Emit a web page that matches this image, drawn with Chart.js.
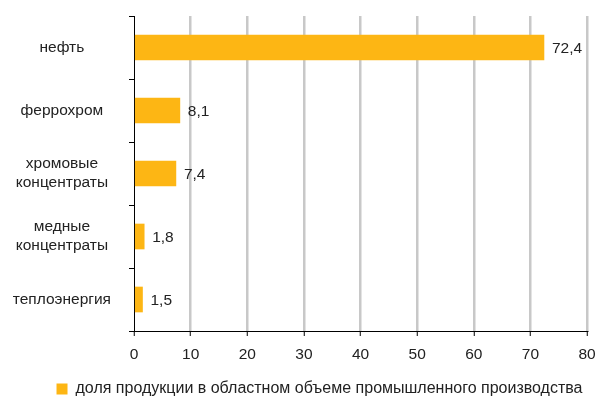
<!DOCTYPE html>
<html>
<head>
<meta charset="utf-8">
<script src="https://cdn.jsdelivr.net/npm/chart.js@4/dist/chart.umd.min.js"></script>
<style>
  html, body { margin: 0; padding: 0; background: #fff; overflow: hidden; }
  /* холст чуть выше окна: нижний отступ легенды (10px) уходит за край */
  #wrap { width: 597px; height: 397px; overflow: hidden; }
</style>
</head>
<body>
<div id="wrap"><canvas id="chart" width="597" height="407"></canvas></div>
<script>
// Данные диаграммы
const categories = ["нефть", "феррохром", ["хромовые", "концентраты"], ["медные", "концентраты"], "теплоэнергия"];
const values = [72.4, 8.1, 7.4, 1.8, 1.5];
const seriesName = "доля продукции в областном объеме промышленного производства";
const xTicks = [0, 10, 20, 30, 40, 50, 60, 70, 80];

const barColor = "#FDB614";
const fontFamily = "'Liberation Sans', Arial, sans-serif";

// Подписи значений справа от столбцов
const valueLabels = {
  id: "valueLabels",
  afterDatasetsDraw(chart) {
    const ctx = chart.ctx;
    const meta = chart.getDatasetMeta(0);
    ctx.save();
    ctx.font = "15.5px " + fontFamily;
    ctx.fillStyle = "#222";
    ctx.textAlign = "left";
    ctx.textBaseline = "middle";
    meta.data.forEach((bar, i) => {
      const txt = values[i].toFixed(1).replace(".", ",");
      ctx.fillText(txt, bar.x + 8, bar.y + 1);
    });
    ctx.restore();
  }
};

// Сдвиг легенды немного вправо, как в оригинале
const legendShift = {
  id: "legendShift",
  afterLayout(chart) {
    chart.legend.left += 21;
    chart.legend.right += 21;
  }
};

new Chart(document.getElementById("chart"), {
  type: "bar",
  data: {
    labels: categories,
    datasets: [{
      label: seriesName,
      data: values,
      backgroundColor: barColor,
      borderWidth: 0,
      barThickness: 25
    }]
  },
  options: {
    indexAxis: "y",
    responsive: false,
    animation: false,
    layout: { padding: { top: 16, right: 0, left: 0, bottom: 0 } },
    scales: {
      x: {
        min: 0,
        max: 80,
        afterBuildTicks(scale) {
          scale.ticks = xTicks.map((v) => ({ value: v }));
        },
        afterFit(scale) {
          scale.height = 49;
          scale.paddingLeft = 0;
          scale.paddingRight = 10;
        },
        border: { color: "#000", width: 1 },
        grid: {
          color: (c) => (c.index === 0 ? "rgba(0,0,0,0)" : "#C8C8C8"),
          lineWidth: 2.5,
          tickColor: "#000",
          tickWidth: 1,
          tickLength: 5
        },
        ticks: {
          color: "#222",
          font: { family: fontFamily, size: 15.5 },
          padding: 9
        }
      },
      y: {
        afterFit(scale) {
          scale.width = 134;
          scale.paddingTop = 0;
          scale.paddingBottom = 0;
        },
        border: { color: "#000", width: 1 },
        grid: {
          drawOnChartArea: false,
          tickColor: "#000",
          tickLength: 5
        },
        ticks: {
          color: "#222",
          crossAlign: "center",
          font: { family: fontFamily, size: 15.5 },
          padding: 18
        }
      }
    },
    plugins: {
      legend: {
        position: "bottom",
        align: "center",
        labels: {
          color: "#222",
          font: { family: fontFamily, size: 16 },
          boxWidth: 11,
          boxHeight: 11,
          padding: 1
        }
      },
      tooltip: { enabled: false }
    }
  },
  plugins: [valueLabels, legendShift]
});
</script>
</body>
</html>
